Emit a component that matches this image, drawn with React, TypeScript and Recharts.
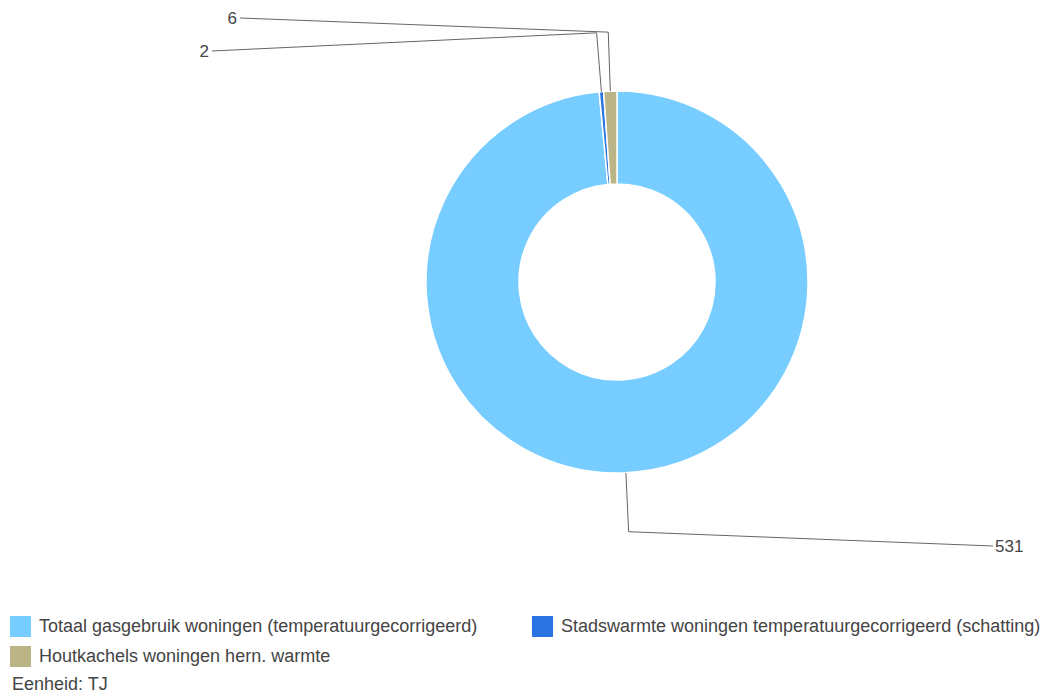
import React from "react";
import { PieChart, Pie, Cell, Legend } from "recharts";

const categories = [
  "Totaal gasgebruik woningen (temperatuurgecorrigeerd)",
  "Stadswarmte woningen temperatuurgecorrigeerd (schatting)",
  "Houtkachels woningen hern. warmte",
];
const values = [531, 2, 6];
const colors = ["#77CDFF", "#2B74E4", "#BBB486"];
const unitLabel = "Eenheid: TJ";

// where each leader line ends, relative to the pie centre
const labelEnds = [
  { dx: 376, dy: 264, side: "right" },
  { dx: -405, dy: -231, side: "left" },
  { dx: -377, dy: -264, side: "left" },
];

const data = categories.map((name, i) => ({ name, value: values[i] }));

const FONT = "'Liberation Sans', Arial, sans-serif";
const RAD = Math.PI / 180;

const renderLabel = (props: any) => {
  const { cx, cy, midAngle, outerRadius, index, value } = props;
  const at = (r: number) => ({
    x: cx + r * Math.cos(-midAngle * RAD),
    y: cy + r * Math.sin(-midAngle * RAD),
  });
  const p0 = at(outerRadius);
  const p1 = at(outerRadius + 59);
  const end = labelEnds[index];
  const ex = cx + end.dx;
  const ey = cy + end.dy;
  const right = end.side === "right";
  return (
    <g>
      <polyline
        points={`${p0.x},${p0.y} ${p1.x},${p1.y} ${ex},${ey}`}
        fill="none"
        stroke="#666"
        strokeWidth={1}
      />
      <text
        x={right ? ex + 2 : ex - 3}
        y={ey}
        textAnchor={right ? "start" : "end"}
        dominantBaseline="central"
        fontFamily={FONT}
        fontSize={17}
        fill="#444"
      >
        {value}
      </text>
    </g>
  );
};

const LegendBox = () => {
  const item = (i: number, left: number, top: number) => (
    <div
      key={i}
      style={{ position: "absolute", left, top, display: "flex", alignItems: "center", whiteSpace: "nowrap" }}
    >
      <span style={{ width: 21, height: 21, background: colors[i], display: "inline-block", marginRight: 8 }} />
      <span>{categories[i]}</span>
    </div>
  );
  return (
    <div style={{ position: "relative", width: 1041, height: 78, fontFamily: FONT, fontSize: 18, color: "#444" }}>
      {item(0, 10, 0)}
      {item(1, 532, 0)}
      {item(2, 10, 30)}
      <div style={{ position: "absolute", left: 12, top: 59, lineHeight: "18px" }}>{unitLabel}</div>
    </div>
  );
};

export default function App() {
  return (
    <div style={{ position: "absolute", left: 0, top: 0, width: 1041, height: 695, background: "#fff" }}>
      <PieChart width={1041} height={695} margin={{ top: 0, right: 0, bottom: 0, left: 0 }}>
        <Pie
          data={data}
          dataKey="value"
          nameKey="name"
          cx={617}
          cy={282}
          innerRadius={98}
          outerRadius={191}
          startAngle={90}
          endAngle={-270}
          stroke="#fff"
          strokeWidth={1.5}
          label={renderLabel}
          labelLine={false}
          isAnimationActive={false}
        >
          {data.map((d, i) => (
            <Cell key={d.name} fill={colors[i]} />
          ))}
        </Pie>
        <Legend
          content={() => <LegendBox />}
          wrapperStyle={{ position: "absolute", left: 0, top: 616, width: 1041 }}
        />
      </PieChart>
    </div>
  );
}
